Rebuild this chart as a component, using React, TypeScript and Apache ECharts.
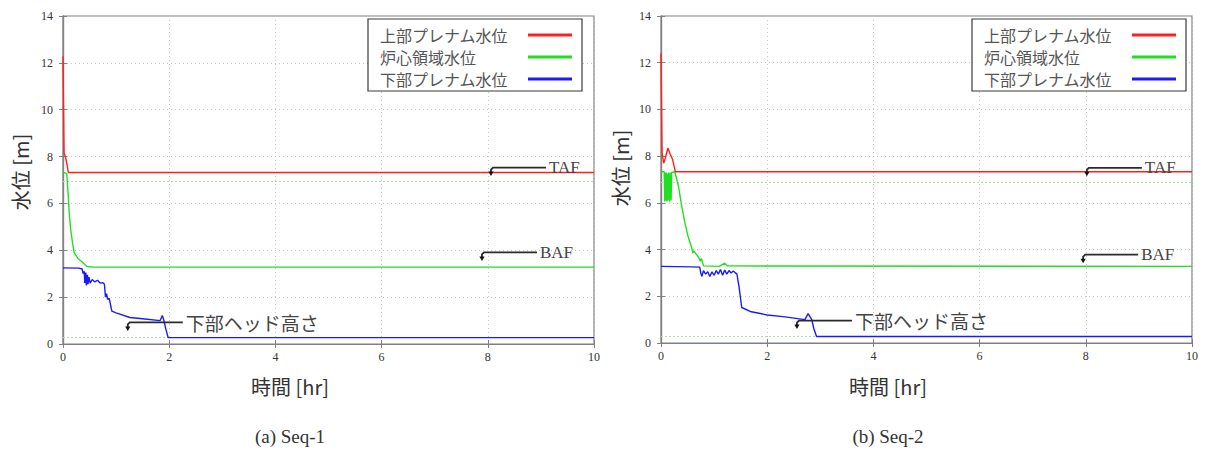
import React, { useEffect, useRef } from "react";
import * as echarts from "echarts";

// ---- data (time [hr], level [m]) ----
const legendNames = ["上部プレナム水位", "炉心領域水位", "下部プレナム水位"];
const xTicks = [0, 2, 4, 6, 8, 10];
const yRange = [0, 14];

const seq1Upper: number[][] = [
  [0, 12.27], [0.02, 8.17], [0.05, 7.95], [0.08, 7.6], [0.1, 7.32], [10, 7.32],
];
const seq1Core: number[][] = [
  [0, 7.32], [0.07, 7.28], [0.1, 6.3], [0.12, 5.5], [0.145, 4.89], [0.18, 4.3],
  [0.21, 3.9], [0.28, 3.65], [0.35, 3.52], [0.45, 3.31], [0.6, 3.28], [10, 3.28],
];
const seq1Lower: number[][] = [
  [0, 3.25], [0.3, 3.24], [0.36, 3.2], [0.38, 3.0], [0.4, 3.1], [0.41, 2.6],
  [0.43, 3.05], [0.44, 2.5], [0.46, 2.95], [0.47, 2.55], [0.49, 2.85], [0.51, 2.6],
  [0.55, 2.75], [0.6, 2.65], [0.65, 2.72], [0.7, 2.6], [0.75, 2.62], [0.78, 2.55],
  [0.8, 2.0], [0.82, 2.15], [0.84, 1.9], [0.87, 1.95], [0.92, 1.4], [1.0, 1.33],
  [1.26, 1.13], [1.5, 1.08], [1.83, 1.0], [1.87, 1.22], [1.9, 1.0], [1.93, 0.7],
  [1.98, 0.27], [10, 0.27],
];
const seq1CoreRefs = [6.93, 0.27];

const seq2Upper: number[][] = [
  [0, 12.4], [0.02, 8.14], [0.05, 7.7], [0.08, 7.9], [0.13, 8.35], [0.17, 8.1],
  [0.22, 7.85], [0.27, 7.33], [10, 7.33],
];
const seq2Core: number[][] = [
  [0, 7.33], [0.06, 7.33], [0.07, 6.06], [0.08, 7.3], [0.09, 6.1], [0.1, 7.3],
  [0.11, 6.06], [0.12, 7.25], [0.13, 6.1], [0.14, 7.3], [0.16, 6.06], [0.17, 7.3],
  [0.19, 6.1], [0.2, 7.3], [0.26, 7.33], [0.33, 6.7], [0.39, 5.85], [0.45, 5.15],
  [0.51, 4.56], [0.58, 4.07], [0.6, 3.85], [0.61, 3.95], [0.7, 3.7], [0.74, 3.5],
  [0.76, 3.62], [0.8, 3.3], [1.1, 3.28], [1.2, 3.42], [1.25, 3.3], [10, 3.28],
];
const seq2Lower: number[][] = [
  [0, 3.28], [0.6, 3.26], [0.73, 3.25], [0.75, 3.0], [0.77, 2.85], [0.8, 3.1],
  [0.84, 2.95], [0.88, 3.05], [0.92, 2.85], [0.96, 3.05], [1.0, 2.9], [1.04, 3.1],
  [1.08, 2.95], [1.12, 3.15], [1.16, 2.9], [1.2, 3.12], [1.24, 2.95], [1.28, 3.1],
  [1.32, 3.0], [1.36, 3.08], [1.43, 2.95], [1.47, 2.4], [1.52, 1.52], [1.68, 1.35],
  [2.0, 1.2], [2.3, 1.13], [2.71, 1.0], [2.77, 1.26], [2.84, 1.0], [2.88, 0.6],
  [2.93, 0.28], [10, 0.28],
];
const seq2CoreRefs = [6.9, 0.28];

const seq1Notes = ["TAF", "BAF", "下部ヘッド高さ"];
const seq1NotePoints: number[][] = [[8.06, 7.23], [7.89, 3.61], [1.22, 0.62]];
const seq2Notes = ["TAF", "BAF", "下部ヘッド高さ"];
const seq2NotePoints: number[][] = [[8.02, 7.2], [7.95, 3.48], [2.56, 0.66]];

const captions = ["(a) Seq-1", "(b) Seq-2"];
const xAxisTitle = "時間 [hr]";
const yAxisTitle = "水位 [m]";

const COLORS = ["#ff1f1f", "#1fe01f", "#1a1aff"];
const SERIF = "'Liberation Serif', 'Noto Sans CJK JP', serif";
const CJK = "'Noto Sans CJK JP', 'Liberation Serif', serif";

function axisX(gridIndex: number, top: boolean) {
  return {
    type: "value",
    gridIndex,
    position: top ? "top" : "bottom",
    min: xTicks[0],
    max: xTicks[xTicks.length - 1],
    interval: 2,
    axisLine: { show: true, lineStyle: { color: "#808080", width: 1.2 } },
    axisTick: { show: true, inside: true, length: 4, lineStyle: { color: "#808080" } },
    axisLabel: {
      show: !top,
      color: "#333",
      fontFamily: SERIF,
      fontSize: 12,
      margin: 7,
    },
    splitLine: {
      show: !top,
      lineStyle: { color: "#c4c4c4", type: [1, 3], width: 1 },
    },
  };
}

function axisY(gridIndex: number, right: boolean) {
  return {
    type: "value",
    gridIndex,
    position: right ? "right" : "left",
    min: yRange[0],
    max: yRange[1],
    interval: 2,
    axisLine: { show: true, lineStyle: { color: "#808080", width: 1.2 } },
    axisTick: { show: true, inside: true, length: 4, lineStyle: { color: "#808080" } },
    axisLabel: {
      show: !right,
      color: "#333",
      fontFamily: SERIF,
      fontSize: 12,
      margin: 10,
    },
    splitLine: {
      show: !right,
      lineStyle: { color: "#c4c4c4", type: [1, 3], width: 1 },
    },
  };
}

function lineSeries(name: string, data: number[][], color: string, axis: number, z: number, refs?: number[]) {
  const s: any = {
    type: "line",
    name,
    data,
    xAxisIndex: axis,
    yAxisIndex: axis,
    showSymbol: false,
    symbol: "none",
    lineStyle: { color, width: 1.4 },
    itemStyle: { color },
    z,
  };
  if (refs) {
    s.markLine = {
      silent: true,
      symbol: ["none", "none"],
      label: { show: false },
      z: 1,
      lineStyle: { color: "#9fe59f", type: [2, 2], width: 1.2 },
      data: refs.map((v) => ({ yAxis: v })),
    };
  }
  return s;
}

function noteSeries(points: number[][], labels: string[], axis: number) {
  return {
    type: "custom",
    xAxisIndex: axis,
    yAxisIndex: axis,
    data: points,
    encode: { x: 0, y: 1 },
    clip: false,
    silent: true,
    z: 6,
    renderItem: (params: any, api: any) => {
      const p = api.coord([api.value(0), api.value(1)]);
      const x = p[0];
      const y = p[1];
      const label = labels[params.dataIndex];
      const isCjk = /[^\x00-\x7f]/.test(label);
      return {
        type: "group",
        children: [
          {
            type: "polyline",
            shape: { points: [[x + 55, y - 7], [x + 2, y - 7], [x, y - 5], [x, y - 2]] },
            style: { stroke: "#2a2a2a", lineWidth: 1.8, fill: null },
          },
          {
            type: "polygon",
            shape: { points: [[x - 2.6, y - 3], [x + 2.6, y - 3], [x, y + 1.5]] },
            style: { fill: "#111" },
          },
          {
            type: "text",
            x: x + 58,
            y: y - 7,
            style: {
              text: label,
              fill: "#444",
              font: isCjk ? `19px ${CJK}` : `17px ${SERIF}`,
              verticalAlign: "middle",
              align: "left",
            },
          },
        ],
      };
    },
  };
}

function legendAt(left: number) {
  return {
    orient: "vertical",
    left,
    top: 19,
    align: "right",
    icon: "rect",
    itemWidth: 44,
    itemHeight: 3,
    itemGap: 6,
    padding: [8, 10, 4, 12],
    borderColor: "#3a3a3a",
    borderWidth: 1.2,
    backgroundColor: "#fff",
    data: legendNames,
    formatter: (name: string) => `{a|${name}}`,
    textStyle: {
      fontFamily: CJK,
      fontSize: 16,
      color: "#555",
      rich: {
        a: {
          width: 143,
          align: "left",
          fontFamily: CJK,
          fontSize: 16,
          lineHeight: 16,
          color: "#555",
        },
      },
    },
    selectedMode: false,
  };
}

export default function App() {
  const ref = useRef<HTMLDivElement>(null);

  useEffect(() => {
    if (!ref.current) return;
    const chart = echarts.init(ref.current, undefined, { renderer: "svg" });
    const text = (t: string, x: number, y: number, size: number, font: string, rotate = 0) => ({
      type: "text",
      x,
      y,
      rotation: rotate,
      style: {
        text: t,
        fill: "#333",
        font: `${size}px ${font}`,
        align: "center",
        verticalAlign: "middle",
      },
    });
    chart.setOption({
      animation: false,
      backgroundColor: "#fff",
      grid: [
        { left: 63, right: 617, top: 16, bottom: 110, show: true, borderColor: "#808080", borderWidth: 1.2, backgroundColor: "transparent" },
        { left: 661, right: 19, top: 16, bottom: 111, show: true, borderColor: "#808080", borderWidth: 1.2, backgroundColor: "transparent" },
      ],
      xAxis: [axisX(0, false), axisX(0, true), axisX(1, false), axisX(1, true)],
      yAxis: [axisY(0, false), axisY(0, true), axisY(1, false), axisY(1, true)],
      legend: [legendAt(368), legendAt(972)],
      series: [
        lineSeries(legendNames[0], seq1Upper, COLORS[0], 0, 4),
        lineSeries(legendNames[1], seq1Core, COLORS[1], 0, 3, seq1CoreRefs),
        lineSeries(legendNames[2], seq1Lower, COLORS[2], 0, 5),
        noteSeries(seq1NotePoints, seq1Notes, 0),
        lineSeries(legendNames[0], seq2Upper, COLORS[0], 2, 4),
        lineSeries(legendNames[1], seq2Core, COLORS[1], 2, 3, seq2CoreRefs),
        lineSeries(legendNames[2], seq2Lower, COLORS[2], 2, 5),
        noteSeries(seq2NotePoints, seq2Notes, 2),
      ],
      graphic: [
        text(yAxisTitle, 20, 172, 20, CJK, Math.PI / 2),
        text(yAxisTitle, 620, 168, 20, CJK, Math.PI / 2),
        text(xAxisTitle, 290, 386, 20, CJK),
        text(xAxisTitle, 888, 386, 20, CJK),
        text(captions[0], 290, 436, 19, SERIF),
        text(captions[1], 888, 436, 19, SERIF),
      ],
    });
    return () => chart.dispose();
  }, []);

  return (
    <div
      ref={ref}
      style={{ position: "absolute", left: 0, top: 0, width: 1211, height: 454 }}
    />
  );
}
